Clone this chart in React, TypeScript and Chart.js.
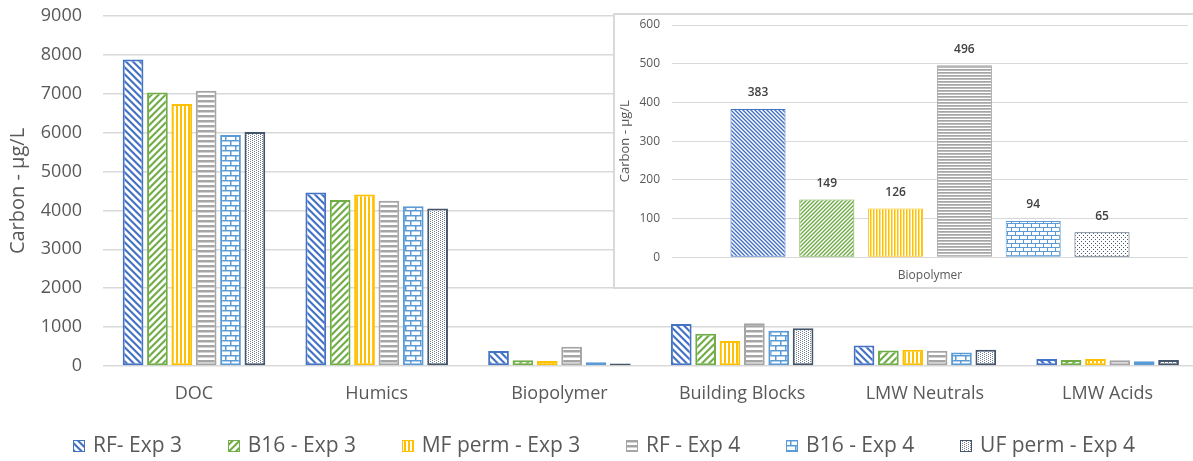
import { useEffect, useRef } from 'react';
import { Chart, registerables } from 'chart.js';

Chart.register(...registerables);

// ---- data ----
const categories = ['DOC', 'Humics', 'Biopolymer', 'Building Blocks', 'LMW Neutrals', 'LMW Acids'];
const seriesNames = ['RF- Exp 3', 'B16 - Exp 3', 'MF perm - Exp 3', 'RF - Exp 4', 'B16 - Exp 4', 'UF perm - Exp 4'];
const rfExp3 = [7880, 4460, 383, 1080, 530, 180];
const b16Exp3 = [7030, 4270, 149, 830, 400, 155];
const mfPermExp3 = [6740, 4410, 126, 640, 420, 180];
const rfExp4 = [7080, 4250, 496, 1100, 395, 145];
const b16Exp4 = [5940, 4110, 94, 905, 350, 120];
const ufPermExp4 = [6020, 4050, 65, 970, 420, 155];
const seriesValues = [rfExp3, b16Exp3, mfPermExp3, rfExp4, b16Exp4, ufPermExp4];
const seriesColors = ['#4472C4', '#70AD47', '#FFC000', '#A5A5A5', '#5B9BD5', '#44546A'];

const mainMax = 9000;
const mainStep = 1000;
const insetCategory = 'Biopolymer';
const insetMax = 600;
const insetStep = 100;
const yTitle = 'Carbon - µg/L';

const FONT = "'Open Sans', 'DejaVu Sans', sans-serif";
const TEXT = '#595959';
const GRID = '#d9d9d9';

// ---- fill patterns ----
type Shape = (x: number, y: number) => boolean;
const mod = (a: number, n: number) => ((a % n) + n) % n;

function hexToRgb(hex: string): [number, number, number] {
  const v = parseInt(hex.slice(1), 16);
  return [(v >> 16) & 255, (v >> 8) & 255, v & 255];
}

function makePattern(w: number, h: number, color: string, shape: Shape, strength = 1): CanvasPattern {
  const c = document.createElement('canvas');
  c.width = w;
  c.height = h;
  const ctx = c.getContext('2d')!;
  const img = ctx.createImageData(w, h);
  const [r, g, b] = hexToRgb(color);
  const S = 4;
  for (let y = 0; y < h; y++) {
    for (let x = 0; x < w; x++) {
      let n = 0;
      for (let sy = 0; sy < S; sy++) {
        for (let sx = 0; sx < S; sx++) {
          if (shape(x + (sx + 0.5) / S, y + (sy + 0.5) / S)) n++;
        }
      }
      const a = (n / (S * S)) * strength;
      const i = (y * w + x) * 4;
      img.data[i] = Math.round(255 * (1 - a) + r * a);
      img.data[i + 1] = Math.round(255 * (1 - a) + g * a);
      img.data[i + 2] = Math.round(255 * (1 - a) + b * a);
      img.data[i + 3] = 255;
    }
  }
  ctx.putImageData(img, 0, 0);
  return ctx.createPattern(c, 'repeat')!;
}

const diagDown = (p: number, w: number): Shape => (x, y) => mod(x - y, p) < w;
const diagUp = (p: number, w: number): Shape => (x, y) => mod(x + y, p) < w;
const vertical = (p: number, w: number): Shape => (x) => mod(x, p) < w;
const horizontal = (p: number, w: number): Shape => (_x, y) => mod(y, p) < w;
const brick = (bw: number, bh: number, m: number): Shape => (x, y) => {
  const row = Math.floor(y / bh);
  if (y - row * bh < m) return true;
  const off = row % 2 ? bw / 2 : 0;
  return mod(x - off, bw) < m;
};
// staggered single-pixel dots
const dots = (step: number, rowStep: number): Shape => (x, y) => {
  const px = Math.floor(x);
  const py = Math.floor(y);
  if (py % rowStep !== 0 && py % rowStep !== rowStep / 2) return false;
  const odd = (py % rowStep) === rowStep / 2;
  return px % step === (odd ? step / 2 : 0);
};

function mainPatterns(): CanvasPattern[] {
  return [
    makePattern(7, 7, seriesColors[0], diagDown(7, 3)),
    makePattern(7, 7, seriesColors[1], diagUp(7, 3)),
    makePattern(4, 1, seriesColors[2], vertical(4, 2)),
    makePattern(1, 5, seriesColors[3], horizontal(5, 2.5)),
    makePattern(10, 10, seriesColors[4], brick(10, 5, 1.5)),
    makePattern(4, 2, seriesColors[5], dots(4, 2), 0.75),
  ];
}

function insetPatterns(): CanvasPattern[] {
  return [
    makePattern(4, 4, seriesColors[0], diagDown(4, 1.8)),
    makePattern(4, 4, seriesColors[1], diagUp(4, 1.8)),
    makePattern(3, 1, seriesColors[2], vertical(3, 1.5)),
    makePattern(1, 3, seriesColors[3], horizontal(3, 1.8)),
    makePattern(8, 8, seriesColors[4], brick(8, 4, 1)),
    makePattern(4, 4, seriesColors[5], dots(4, 4)),
  ];
}

// value labels above the inset bars
const valueLabels = {
  id: 'valueLabels',
  afterDatasetsDraw(chart: any) {
    const { ctx } = chart;
    ctx.save();
    ctx.font = `600 12px ${FONT}`;
    ctx.fillStyle = '#404040';
    ctx.textAlign = 'center';
    ctx.textBaseline = 'middle';
    chart.data.datasets.forEach((ds: any, i: number) => {
      const meta = chart.getDatasetMeta(i);
      meta.data.forEach((bar: any, j: number) => {
        ctx.fillText(String(ds.data[j]), bar.x, bar.y - 16);
      });
    });
    ctx.restore();
  },
};

// one-row legend along the bottom, using each dataset's fill pattern
const LEGEND_LEFT = 73;
const LEGEND_RIGHT = 1135;
const LEGEND_Y = 446;
const patternLegend = {
  id: 'patternLegend',
  afterDraw(chart: any) {
    const { ctx } = chart;
    const box = 12;
    const textGap = 8;
    ctx.save();
    ctx.font = `21px ${FONT}`;
    const widths = chart.data.datasets.map((ds: any) => ctx.measureText(ds.label).width);
    const used = widths.reduce((a: number, w: number) => a + box + textGap + w, 0);
    const gap = (LEGEND_RIGHT - LEGEND_LEFT - used) / (widths.length - 1);
    let x = LEGEND_LEFT;
    chart.data.datasets.forEach((ds: any, i: number) => {
      const top = Math.round(LEGEND_Y - box / 2);
      const left = Math.round(x);
      ctx.fillStyle = ds.backgroundColor;
      ctx.fillRect(left, top, box, box);
      ctx.strokeStyle = ds.borderColor;
      ctx.lineWidth = 1;
      ctx.strokeRect(left + 0.5, top + 0.5, box - 1, box - 1);
      ctx.fillStyle = TEXT;
      ctx.textAlign = 'left';
      ctx.textBaseline = 'middle';
      ctx.fillText(ds.label, x + box + textGap, LEGEND_Y);
      x += box + textGap + widths[i] + gap;
    });
    ctx.restore();
  },
};

const noEdgePadding = (s: any) => {
  s.paddingTop = 0;
  s.paddingBottom = 0;
  s.paddingLeft = 0;
  s.paddingRight = 0;
};

export default function App() {
  const mainRef = useRef<HTMLCanvasElement>(null);
  const insetRef = useRef<HTMLCanvasElement>(null);

  useEffect(() => {
    const mp = mainPatterns();
    const ip = insetPatterns();
    const insetIndex = categories.indexOf(insetCategory);

    const main = new Chart(mainRef.current!, {
      type: 'bar',
      data: {
        labels: categories,
        datasets: seriesNames.map((name, i) => ({
          label: name,
          data: seriesValues[i],
          backgroundColor: mp[i],
          borderColor: seriesColors[i],
          borderWidth: 2,
          borderSkipped: false,
          categoryPercentage: 0.8,
          barPercentage: 0.85,
        })),
      },
      options: {
        animation: false,
        responsive: false,
        maintainAspectRatio: false,
        layout: { padding: { top: 16, right: 1, left: 0, bottom: 50 } },
        scales: {
          x: {
            grid: { display: false, drawTicks: false },
            border: { display: false },
            ticks: { font: { family: FONT, size: 18 }, color: TEXT, padding: 17 },
            afterFit: (s: any) => { noEdgePadding(s); s.height = 45; },
          },
          y: {
            min: 0,
            max: mainMax,
            ticks: {
              stepSize: mainStep,
              font: { family: FONT, size: 18 },
              color: TEXT,
              padding: 20.6,
              callback: (v: any) => String(v),
            },
            grid: { color: GRID, lineWidth: 1.5, drawTicks: false },
            border: { display: false },
            title: {
              display: true,
              text: yTitle,
              font: { family: FONT, size: 20 },
              color: TEXT,
              padding: { top: 6, bottom: 0 },
            },
            afterFit: (s: any) => { noEdgePadding(s); s.width = 102.6; },
          },
        },
        plugins: {
          tooltip: { enabled: false },
          legend: { display: false },
        },
      } as any,
      plugins: [patternLegend],
    });

    const inset = new Chart(insetRef.current!, {
      type: 'bar',
      data: {
        labels: [insetCategory],
        datasets: seriesNames.map((name, i) => ({
          label: name,
          data: [seriesValues[i][insetIndex]],
          backgroundColor: ip[i],
          borderColor: seriesColors[i],
          borderWidth: 1,
          borderSkipped: false,
          categoryPercentage: 0.8,
          barPercentage: 0.8,
        })),
      },
      options: {
        animation: false,
        responsive: false,
        maintainAspectRatio: false,
        layout: { padding: { top: 10, right: 7, left: 0, bottom: 0 } },
        scales: {
          x: {
            grid: { display: false, drawTicks: false },
            border: { display: false },
            ticks: { font: { family: FONT, size: 12 }, color: TEXT, padding: 11 },
            afterFit: (s: any) => { noEdgePadding(s); s.height = 29.7; },
          },
          y: {
            min: 0,
            max: insetMax,
            ticks: {
              stepSize: insetStep,
              font: { family: FONT, size: 12 },
              color: TEXT,
              padding: 12,
              callback: (v: any) => String(v),
            },
            grid: { color: GRID, lineWidth: 1, drawTicks: false },
            border: { display: false },
            title: {
              display: true,
              text: yTitle,
              font: { family: FONT, size: 13 },
              color: TEXT,
              padding: { top: 2.2, bottom: 0 },
            },
            afterFit: (s: any) => { noEdgePadding(s); s.width = 57; },
          },
        },
        plugins: {
          tooltip: { enabled: false },
          legend: { display: false },
        },
      } as any,
      plugins: [valueLabels],
    });

    return () => {
      main.destroy();
      inset.destroy();
    };
  }, []);

  return (
    <div
      style={{
        position: 'fixed',
        left: 0,
        top: 0,
        width: 1193,
        height: 461,
        overflow: 'hidden',
        background: '#fff',
      }}
    >
      <canvas
        ref={mainRef}
        width={1200}
        height={461}
        style={{ position: 'absolute', left: 0, top: 0, width: 1200, height: 461 }}
      />
      <div
        style={{
          position: 'absolute',
          left: 613,
          top: 13,
          width: 600,
          height: 272,
          border: `2px solid ${GRID}`,
          background: '#fff',
        }}
      >
        <canvas
          ref={insetRef}
          width={580}
          height={272}
          style={{ position: 'absolute', left: 0, top: 0, width: 580, height: 272 }}
        />
      </div>
    </div>
  );
}
